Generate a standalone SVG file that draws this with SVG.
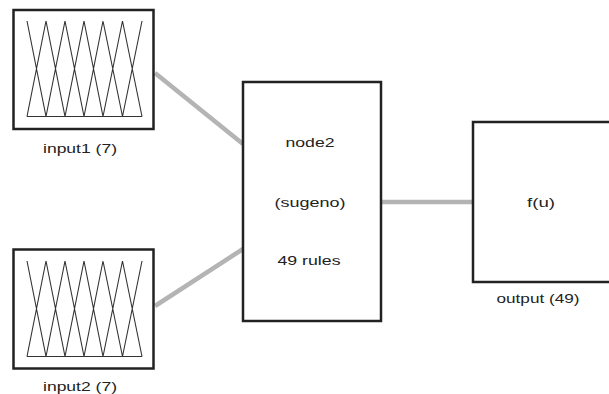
<svg xmlns="http://www.w3.org/2000/svg" width="609" height="394" viewBox="0 0 609 394">
<style>
.box{fill:#fff;stroke:#222;stroke-width:2.5}
.mf{fill:none;stroke:#333;stroke-width:1.1}
.lbl{font-family:"Liberation Sans",Arial,sans-serif;font-size:12.5px;fill:#222;text-anchor:middle}
.conn{stroke:#b4b4b4;stroke-width:4.5;fill:none}
</style>
<defs>
<g id="mfs">
<path class="mf" d="M27,21 L46,116.5 M27,116.5 L46,21 L65,116.5 M46,116.5 L65,21 L84,116.5 M65,116.5 L84,21 L103,116.5 M84,116.5 L103,21 L122.5,116.5 M103,116.5 L122.5,21 L142,116.5 M122.5,116.5 L142,21 M27,116.5 L142,116.5"/>
</g>
</defs>
<rect width="609" height="394" fill="#fff"/>
<g id="connectors">
<line class="conn" x1="155" y1="73" x2="243" y2="144"/>
<line class="conn" x1="155" y1="306" x2="243" y2="249"/>
<line class="conn" x1="381" y1="202" x2="473" y2="202"/>
</g>
<g id="input1">
<rect class="box" x="13.5" y="10" width="140" height="119"/>
<use href="#mfs"/>
<text class="lbl" x="80" y="153" textLength="74" lengthAdjust="spacingAndGlyphs">input1 (7)</text>
</g>
<g id="input2">
<rect class="box" x="13.5" y="249.5" width="140" height="119"/>
<use href="#mfs" transform="translate(0,240)"/>
<text class="lbl" x="80" y="391" textLength="74" lengthAdjust="spacingAndGlyphs">input2 (7)</text>
</g>
<g id="node2">
<rect class="box" x="243" y="82" width="138" height="239"/>
<text class="lbl" x="310" y="147" textLength="49" lengthAdjust="spacingAndGlyphs">node2</text>
<text class="lbl" x="310" y="207" textLength="71" lengthAdjust="spacingAndGlyphs">(sugeno)</text>
<text class="lbl" x="309" y="265" textLength="63" lengthAdjust="spacingAndGlyphs">49 rules</text>
</g>
<g id="output">
<rect class="box" x="473" y="122" width="140" height="160"/>
<text class="lbl" x="541" y="207" textLength="28" lengthAdjust="spacingAndGlyphs">f(u)</text>
<text class="lbl" x="538" y="303" textLength="83" lengthAdjust="spacingAndGlyphs">output (49)</text>
</g>
</svg>
